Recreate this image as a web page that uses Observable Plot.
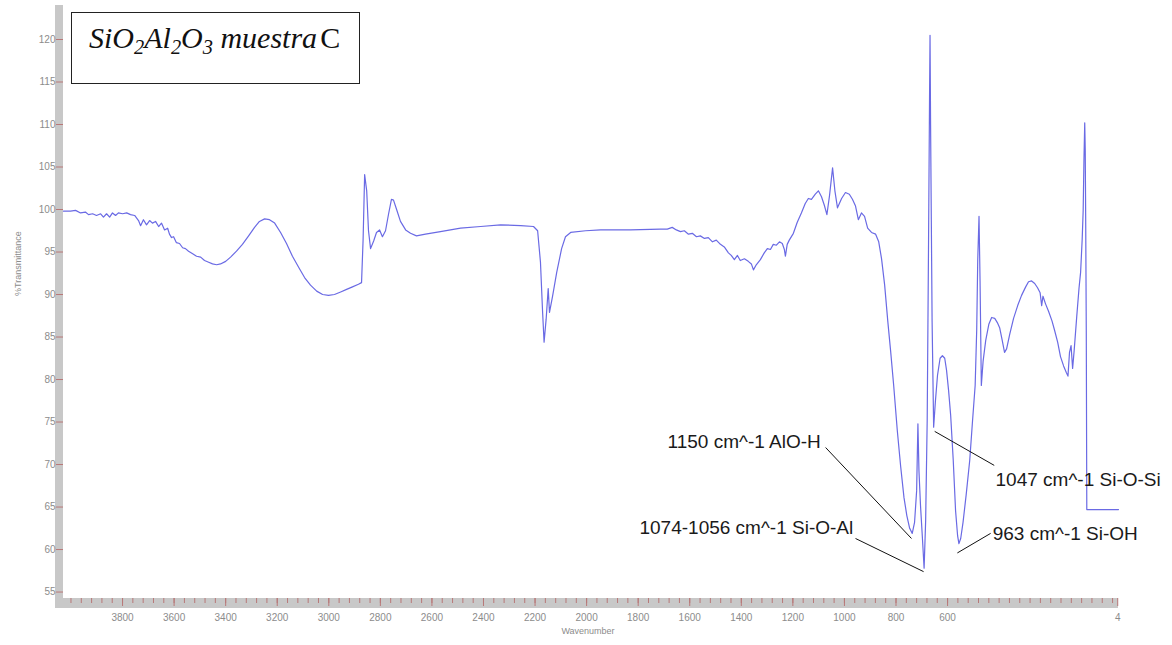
<!DOCTYPE html>
<html><head><meta charset="utf-8">
<script src="https://cdn.jsdelivr.net/npm/d3@7"></script>
<script src="https://cdn.jsdelivr.net/npm/@observablehq/plot@0.6"></script>
<style>
html,body{margin:0;padding:0;background:#fff;}
#wrap{position:relative;width:1172px;height:645px;overflow:hidden;}
#title{position:absolute;left:71px;top:12px;width:287px;height:70px;border:1.5px solid #222;background:#fff;}
#title .t{position:absolute;left:17px;top:8px;font-family:"Liberation Serif",serif;font-style:italic;font-size:30px;white-space:nowrap;color:#111;}
#title sub{font-size:0.68em;vertical-align:-0.28em;line-height:0;}
#title .c{font-style:normal;margin-left:3px;}
g[aria-label="y-axis tick"], g[aria-label="x-axis tick"]{stroke:#b87878;}
g[aria-label="y-axis tick label"] text, g[aria-label="x-axis tick label"] text{fill:#8c8c8c;}
</style></head>
<body>
<div id="wrap">
  <div id="chart"></div>
  <div id="title"><span class="t">SiO<sub>2</sub>Al<sub>2</sub>O<sub>3</sub> muestra<span class="c">C</span></span></div>
</div>
<script>
// ---- data ----
const wavenumber = [4029,4002,3982,3963,3944,3932,3916,3901,3885,3874,3862,3850,3839,3827,3816,3800,3784,3769,3753,3738,
3730,3719,3707,3695,3684,3672,3660,3649,3637,3625,3618,3610,3602,3591,3579,3567,3556,3544,3528,3513,
3497,3482,3466,3451,3435,3420,3400,3381,3358,3335,3311,3288,3269,3249,3230,3210,3187,3164,3141,3117,
3094,3071,3047,3024,3001,2978,2954,2931,2908,2885,2873,2867,2861,2853,2846,2838,2826,2815,2803,2792,
2780,2768,2757,2749,2737,2722,2702,2683,2660,2625,2567,2489,2411,2334,2256,2206,2190,2179,2171,2165,
2157,2149,2144,2132,2116,2097,2082,2062,2004,1946,1830,1714,1687,1668,1652,1636,1621,1605,1590,1574,
1559,1543,1528,1512,1497,1481,1466,1450,1439,1427,1415,1404,1388,1373,1361,1353,1342,1326,1311,1299,
1287,1276,1264,1252,1241,1233,1229,1222,1214,1198,1183,1167,1152,1140,1128,1113,1101,1089,1078,1068,
1058,1046,1037,1027,1011,996,981,969,957,946,934,922,910,895,879,867,856,844,832,821,
809,795,782,769,758,747,737,728,720,715,711,705,698,691,685,679,674,670,668,666,
663,660,654,647,639,629,620,611,604,596,588,578,569,561,556,549,540,528,514,503,
493,487,483,478,474,469,462,452,440,429,417,407,398,388,379,371,359,344,328,313,
297,286,274,262,251,241,235,230,220,208,195,185,173,162,150,139,133,127,121,115,
109,99,90,84,78,74,71,68,66,64,62,60,-63];
const transmittance = [99.8,99.8,99.9,99.6,99.7,99.4,99.5,99.3,99.5,99.1,99.5,99.1,99.6,99.3,99.6,99.5,99.6,99.4,99.3,98.7,
98.1,98.8,98.2,98.7,98.4,98.6,98.0,98.4,97.6,97.8,97.1,96.7,96.8,96.1,96.0,95.5,95.4,95.1,94.8,94.5,
94.4,94.0,93.8,93.6,93.5,93.6,93.9,94.4,95.1,95.9,96.9,97.9,98.6,98.9,98.8,98.4,97.3,96.0,94.5,93.2,
92.0,91.1,90.4,90.0,89.9,90.0,90.3,90.6,90.9,91.2,91.4,96.4,104.1,102.2,97.5,95.4,96.3,97.3,97.6,96.8,
97.5,99.5,101.2,101.1,100.0,98.6,97.6,97.2,96.9,97.1,97.4,97.8,98.0,98.2,98.1,98.0,97.5,93.8,88.1,84.4,
87.1,90.7,87.9,89.8,92.6,95.4,96.8,97.3,97.5,97.6,97.6,97.7,97.7,97.9,97.6,97.4,97.5,97.1,97.2,96.8,
96.9,96.6,96.7,96.2,96.4,95.9,95.6,94.9,94.6,94.1,94.6,94.0,94.2,93.9,93.6,92.9,93.5,94.1,94.9,95.4,
95.3,95.9,95.8,96.2,96.0,95.3,94.5,95.9,96.4,97.2,98.5,99.6,100.7,101.3,101.2,101.8,102.2,101.5,100.5,99.4,
101.6,104.9,102.2,100.2,101.3,102.0,101.8,101.2,100.4,98.8,99.6,99.2,97.8,97.3,97.1,96.2,94.2,91.1,86.9,83.4,
79.3,74.0,69.8,66.1,64.0,62.5,61.9,63.2,66.9,74.8,69.3,65.2,61.6,57.8,63.4,75.2,95.2,112.8,120.5,110.5,
98.7,86.9,74.4,77.5,80.5,82.5,82.8,82.5,81.1,78.7,75.8,70.5,64.6,61.6,60.7,61.3,63.2,66.4,70.5,75.2,
79.3,85.8,94.0,99.2,91.6,79.3,82.2,84.6,86.5,87.3,87.2,86.7,86.1,84.6,83.2,83.6,85.3,87.2,88.7,89.9,
90.9,91.5,91.6,91.3,90.8,90.2,88.7,89.8,88.9,88.0,86.9,85.8,84.4,82.7,81.6,80.8,80.4,83.2,84.0,81.3,
83.4,87.4,90.8,92.6,96.4,99.9,105.8,110.2,106.9,97.5,85.8,64.7,64.7];

const yTicks = [55,60,65,70,75,80,85,90,95,100,105,110,115,120];
const xTicks = [3800,3600,3400,3200,3000,2800,2600,2400,2200,2000,1800,1600,1400,1200,1000,800,600,-60];
const xTickLabels = ["3800","3600","3400","3200","3000","2800","2600","2400","2200","2000","1800","1600","1400","1200","1000","800","600","4"];

const annLabels = ["1150 cm^-1 AlO-H", "1074-1056 cm^-1 Si-O-Al", "1047 cm^-1 Si-O-Si", "963 cm^-1 Si-OH"];
const annTextW = [1686, 1795, 414, 425];
const annTextT = [72.7, 62.5, 68.2, 61.8];
const annFromW = [1073, 957, 650, 562];
const annFromT = [72.0, 61.3, 73.9, 59.6];
const annToW = [740, 693, 419, 433];
const annToT = [61.3, 57.4, 69.9, 61.9];

const xDomain = [4029, -63];
const yDomain = [54.24, 124];

// ---- build ----
const spectrum = wavenumber.map((w, i) => ({w, t: transmittance[i]}));
const ann = annLabels.map((label, i) => ({label, tw: annTextW[i], tt: annTextT[i], x1: annFromW[i], y1: annFromT[i], x2: annToW[i], y2: annToT[i]}));
const minorX = d3.range(4000, -61, -40);
const labelOf = new Map(xTicks.map((v, i) => [v, xTickLabels[i]]));

const svg = Plot.plot({
  width: 1172,
  height: 645,
  marginLeft: 63,
  marginRight: 54,
  marginTop: 5,
  marginBottom: 47,
  style: {fontFamily: "'Liberation Sans Narrow', 'Liberation Sans', Arial, sans-serif", fontSize: "10px", background: "#fff"},
  x: {domain: xDomain, label: null},
  y: {domain: yDomain, label: null},
  marks: [
    Plot.axisX({ticks: minorX, tickSize: 5, tickFormat: () => "", anchor: "bottom"}),
    Plot.axisX({ticks: xTicks, tickSize: 8, tickPadding: 7, tickFormat: d => labelOf.get(d), anchor: "bottom"}),
    Plot.axisY({ticks: yTicks, tickSize: 7, tickPadding: 1, anchor: "left"}),
    Plot.line(spectrum, {x: "w", y: "t", stroke: "#6a6ae4", strokeWidth: 1.2}),
    Plot.link(ann, {x1: "x1", y1: "y1", x2: "x2", y2: "y2", stroke: "#111", strokeWidth: 1}),
    Plot.text(ann, {x: "tw", y: "tt", text: "label", textAnchor: "start", fill: "#1a1a1a", fontSize: 19, fontFamily: "'Liberation Sans', Arial, sans-serif"}),
    Plot.text(["%Transmittance"], {frameAnchor: "left", dx: -45, dy: -6, rotate: -90, fill: "#8c8c8c", fontSize: 9}),
    Plot.text(["Wavenumber"], {frameAnchor: "bottom", dx: -3, dy: 35, fill: "#8c8c8c", fontSize: 9})
  ]
});

// gray axis bands, placed with the plot's own scales
const sx = svg.scale("x"), sy = svg.scale("y");
const pxLeft = sx.apply(xDomain[0]), pxRight = sx.apply(xDomain[1]);
const pxTop = sy.apply(yDomain[1]), pxBottom = sy.apply(yDomain[0]);
const band = d3.select(svg).insert("g", "g").attr("fill", "#c8c8c8");
band.append("rect").attr("x", pxLeft - 8).attr("y", pxTop).attr("width", 8).attr("height", pxBottom - pxTop + 10);
band.append("rect").attr("x", pxLeft - 8).attr("y", pxBottom).attr("width", pxRight - pxLeft + 8).attr("height", 10);

document.getElementById("chart").appendChild(svg);
</script>
</body></html>
